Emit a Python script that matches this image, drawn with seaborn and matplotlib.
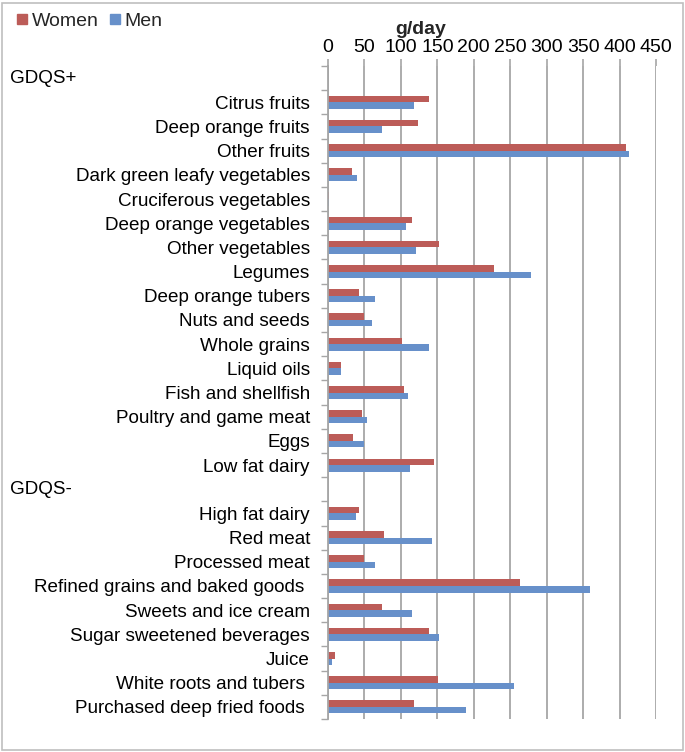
import numpy as np
import pandas as pd
import seaborn as sns
import matplotlib
matplotlib.use("Agg")
import matplotlib.pyplot as plt
from matplotlib.lines import Line2D
from matplotlib.patches import Rectangle
import matplotlib.transforms as mtransforms

categories = [
    "GDQS+", "Citrus fruits", "Deep orange fruits", "Other fruits",
    "Dark green leafy vegetables", "Cruciferous vegetables",
    "Deep orange vegetables", "Other vegetables", "Legumes",
    "Deep orange tubers", "Nuts and seeds", "Whole grains", "Liquid oils",
    "Fish and shellfish", "Poultry and game meat", "Eggs", "Low fat dairy",
    "GDQS-", "High fat dairy", "Red meat", "Processed meat",
    "Refined grains and baked goods ", "Sweets and ice cream",
    "Sugar sweetened beverages", "Juice", "White roots and tubers ",
    "Purchased deep fried foods ",
]
headers = ["GDQS+", "GDQS-"]
women = [np.nan, 138, 123, 409, 33, 1, 115, 152, 228, 43, 49, 101, 18, 104,
         46, 34, 146, np.nan, 43, 77, 49, 263, 74, 139, 9, 151, 118]
men = [np.nan, 118, 74, 413, 40, 1, 107, 121, 278, 64, 61, 138, 18, 110,
       54, 50, 112, np.nan, 38, 143, 65, 360, 115, 152, 6, 255, 190]
series = ["Women", "Men"]
colors = ["#BC5C58", "#6790CA"]
xticks = [0, 50, 100, 150, 200, 250, 300, 350, 400, 450]

df = pd.DataFrame({
    "category": categories * 2,
    "value": women + men,
    "sex": [series[0]] * len(categories) + [series[1]] * len(categories),
})

sns.set_theme(style="white")
plt.rcParams["font.family"] = ["Liberation Sans", "DejaVu Sans"]

W, H = 685, 752
fig = plt.figure(figsize=(W / 100, H / 100), dpi=100)
ax = fig.add_axes([328 / W, 1 - 719 / H, (656 - 328) / W, (719 - 66) / H])

sns.barplot(data=df, y="category", x="value", hue="sex", order=categories,
            hue_order=series, palette=colors, orient="h", width=0.54,
            saturation=1, linewidth=0, ax=ax, legend=False, errorbar=None)

ax.set_xlim(0, 450)
ax.set_ylim(len(categories) - 0.5, -0.5)
ax.xaxis.tick_top()
ax.set_xticks(xticks)
ax.set_xticklabels([str(t) for t in xticks], fontsize=14, color="black")
ax.xaxis.set_label_position("top")
ax.set_xlabel("g/day", fontsize=14, fontweight="bold", labelpad=4)
ax.xaxis.label.set_x((421 - 328) / (656 - 328))
ax.tick_params(axis="x", length=5, width=1.2, color="#A6A6A6",
               direction="out", pad=2)
ax.grid(axis="x", color="#A6A6A6", linewidth=1.3)
ax.set_axisbelow(True)
for s in ["top", "right", "bottom"]:
    ax.spines[s].set_visible(False)
ax.spines["left"].set_color("#A6A6A6")
ax.spines["left"].set_linewidth(1.3)
ax.set_ylabel("")

labels = ["" if c in headers else c for c in categories]
ax.set_yticks(range(len(categories)))
ax.set_yticklabels(labels, fontsize=13.6, color="black")
ax.tick_params(axis="y", which="major", length=0, pad=13)
ax.set_yticks(np.arange(-0.5, len(categories), 1), minor=True)
ax.tick_params(axis="y", which="minor", length=5, width=1, color="#A6A6A6",
               direction="out", left=True)

trans = mtransforms.blended_transform_factory(fig.transFigure, ax.transData)
for i, c in enumerate(categories):
    if c in headers:
        ax.text(10 / W, i, c, transform=trans, fontsize=13.6, ha="left",
                va="center", color="black")

handles = [Line2D([0], [0], marker="s", linestyle="none", markersize=6.5,
                  markerfacecolor=col, markeredgecolor=col) for col in colors]
fig.legend(handles, series, loc="upper left",
           bbox_to_anchor=(17 / W, 1 - 12 / H),
           ncol=2, frameon=False, fontsize=14, handlelength=0.5,
           handletextpad=0.25, columnspacing=0.6, borderaxespad=0.0,
           borderpad=0.0)

fig.patches.append(Rectangle((2 / W, 2 / H), 681 / W, 747 / H,
                             transform=fig.transFigure, fill=False,
                             edgecolor="#BFBFBF", linewidth=1.2))

fig.savefig("out.png", dpi=100)
